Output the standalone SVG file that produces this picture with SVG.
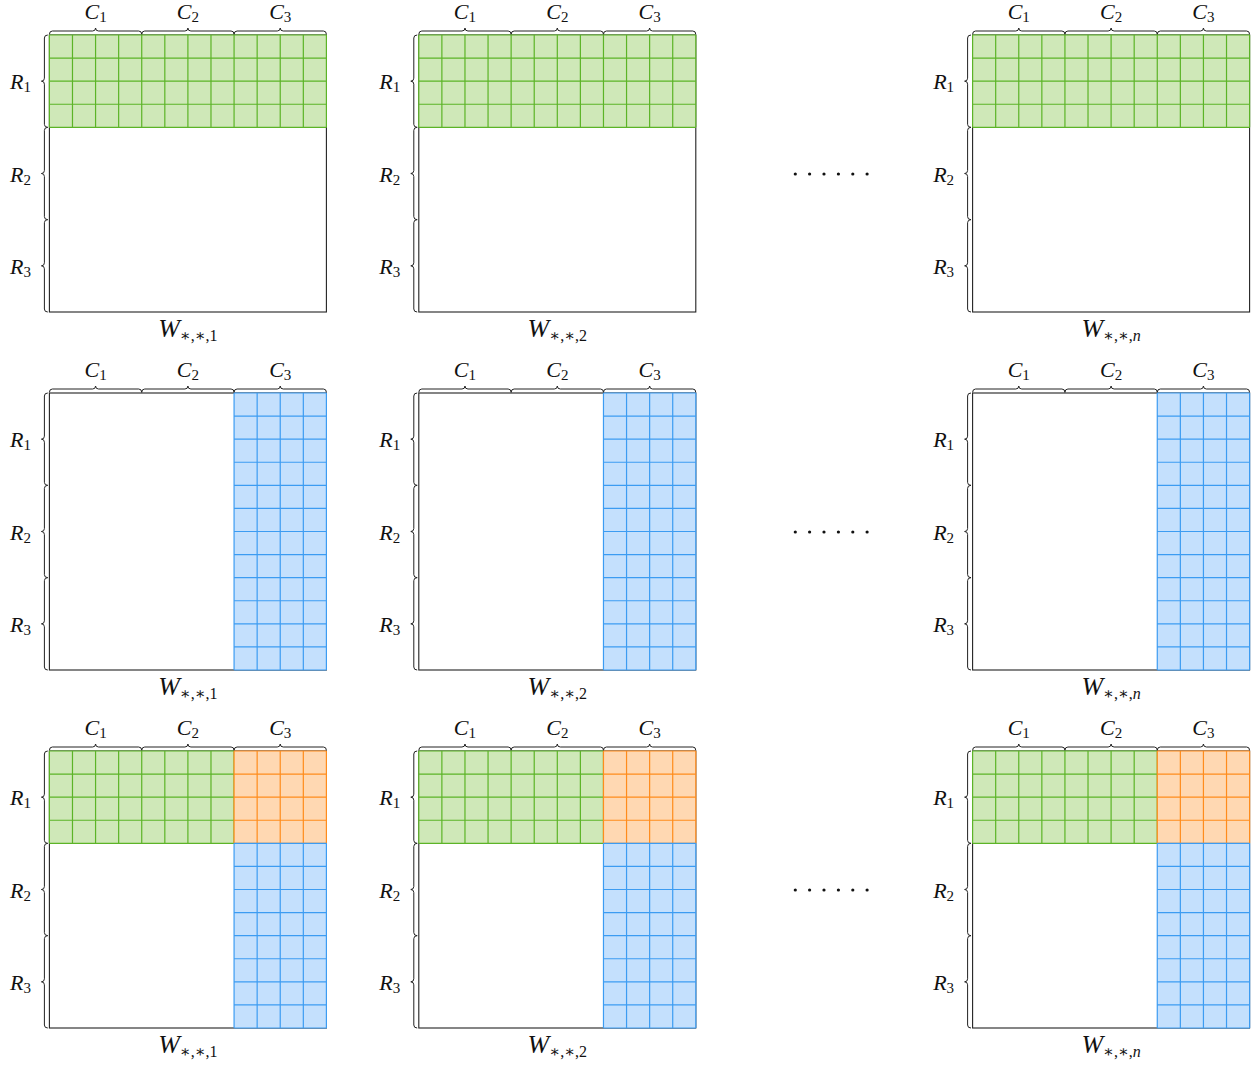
<svg xmlns="http://www.w3.org/2000/svg" width="1260" height="1065" viewBox="0 0 1260 1065">
  <style>
    .border { fill: none; stroke: #222; stroke-width: 1.1; }
    .brace { fill: none; stroke: #222; stroke-width: 1; stroke-linecap: round; }
    .lbl { font-family: "Liberation Serif", "DejaVu Serif", serif; fill: #111; }
    .it { font-style: italic; }
    .green-f { fill: #cfe8b8; }
    .green-s { fill: none; stroke: #5cb427; stroke-width: 1.2; }
    .orange-f { fill: #ffd8b2; }
    .orange-s { fill: none; stroke: #ff8c1c; stroke-width: 1.2; }
    .blue-f { fill: #c4e0fd; }
    .blue-s { fill: none; stroke: #3c9cf2; stroke-width: 1.2; }
    .dot { fill: #111; }
  </style>
  <defs>
    <!-- matrix outline, block braces and block labels (local coords, 277 x 277, cell 23.08) -->
    <g id="frame">
      <rect class="border" x="0" y="0" width="277" height="277"/>
      <path class="brace" d="M0 -1Q0 -4 3 -4H43.17Q46.17 -4 46.17 -7Q46.17 -4 49.17 -4H89.33Q92.33 -4 92.33 -1M92.33 -1Q92.33 -4 95.33 -4H135.5Q138.5 -4 138.5 -7Q138.5 -4 141.5 -4H181.67Q184.67 -4 184.67 -1M184.67 -1Q184.67 -4 187.67 -4H227.83Q230.83 -4 230.83 -7Q230.83 -4 233.83 -4H274Q277 -4 277 -1"/>
      <path class="brace" d="M-2 0Q-5 0 -5 3V43.17Q-5 46.17 -8 46.17Q-5 46.17 -5 49.17V89.33Q-5 92.33 -2 92.33M-2 92.33Q-5 92.33 -5 95.33V135.5Q-5 138.5 -8 138.5Q-5 138.5 -5 141.5V181.67Q-5 184.67 -2 184.67M-2 184.67Q-5 184.67 -5 187.67V227.83Q-5 230.83 -8 230.83Q-5 230.83 -5 233.83V274Q-5 277 -2 277"/>
      <text class="lbl" x="46.17" y="-16" text-anchor="middle"><tspan class="it" font-size="22">C</tspan><tspan font-size="15" dy="3">1</tspan></text>
      <text class="lbl" x="138.5" y="-16" text-anchor="middle"><tspan class="it" font-size="22">C</tspan><tspan font-size="15" dy="3">2</tspan></text>
      <text class="lbl" x="230.83" y="-16" text-anchor="middle"><tspan class="it" font-size="22">C</tspan><tspan font-size="15" dy="3">3</tspan></text>
      <text class="lbl" x="-29" y="54" text-anchor="middle"><tspan class="it" font-size="22">R</tspan><tspan font-size="15" dy="3">1</tspan></text>
      <text class="lbl" x="-29" y="146.5" text-anchor="middle"><tspan class="it" font-size="22">R</tspan><tspan font-size="15" dy="3">2</tspan></text>
      <text class="lbl" x="-29" y="238.8" text-anchor="middle"><tspan class="it" font-size="22">R</tspan><tspan font-size="15" dy="3">3</tspan></text>
    </g>
    <!-- R1 row band across all columns: 12 x 4 cells -->
    <g id="green-full">
      <rect class="green-f" x="0" y="0" width="277" height="92.33"/>
      <path class="green-s" d="M0 0V92.33M23.08 0V92.33M46.17 0V92.33M69.25 0V92.33M92.33 0V92.33M115.42 0V92.33M138.5 0V92.33M161.58 0V92.33M184.67 0V92.33M207.75 0V92.33M230.83 0V92.33M253.92 0V92.33M277 0V92.33M0 0H277M0 23.08H277M0 46.17H277M0 69.25H277M0 92.33H277"/>
    </g>
    <!-- R1 x (C1, C2): 8 x 4 cells -->
    <g id="green-part">
      <rect class="green-f" x="0" y="0" width="184.67" height="92.33"/>
      <path class="green-s" d="M0 0V92.33M23.08 0V92.33M46.17 0V92.33M69.25 0V92.33M92.33 0V92.33M115.42 0V92.33M138.5 0V92.33M161.58 0V92.33M184.67 0V92.33M0 0H184.67M0 23.08H184.67M0 46.17H184.67M0 69.25H184.67M0 92.33H184.67"/>
    </g>
    <!-- R1 x C3 overlap: 4 x 4 cells -->
    <g id="orange-corner">
      <rect class="orange-f" x="184.67" y="0" width="92.33" height="92.33"/>
      <path class="orange-s" d="M184.67 0V92.33M207.75 0V92.33M230.83 0V92.33M253.92 0V92.33M277 0V92.33M184.67 0H277M184.67 23.08H277M184.67 46.17H277M184.67 69.25H277M184.67 92.33H277"/>
    </g>
    <!-- C3 column band across all rows: 4 x 12 cells -->
    <g id="blue-full">
      <rect class="blue-f" x="184.67" y="0" width="92.33" height="277"/>
      <path class="blue-s" d="M184.67 0V277M207.75 0V277M230.83 0V277M253.92 0V277M277 0V277M184.67 0H277M184.67 23.08H277M184.67 46.17H277M184.67 69.25H277M184.67 92.33H277M184.67 115.42H277M184.67 138.5H277M184.67 161.58H277M184.67 184.67H277M184.67 207.75H277M184.67 230.83H277M184.67 253.92H277M184.67 277H277"/>
    </g>
    <!-- (R2, R3) x C3: 4 x 8 cells -->
    <g id="blue-part">
      <rect class="blue-f" x="184.67" y="92.33" width="92.33" height="184.67"/>
      <path class="blue-s" d="M184.67 92.33V277M207.75 92.33V277M230.83 92.33V277M253.92 92.33V277M277 92.33V277M184.67 92.33H277M184.67 115.42H277M184.67 138.5H277M184.67 161.58H277M184.67 184.67H277M184.67 207.75H277M184.67 230.83H277M184.67 253.92H277M184.67 277H277"/>
    </g>
  </defs>

  <!-- row 1: R1 selected -->
  <g id="m-1-1" transform="translate(49.4 35)">
    <use href="#frame"/><use href="#green-full"/>
    <text class="lbl" x="138.5" y="302" text-anchor="middle"><tspan class="it" font-size="26">W</tspan><tspan font-size="16" dy="4">∗,∗,1</tspan></text>
  </g>
  <g id="m-1-2" transform="translate(418.8 35)">
    <use href="#frame"/><use href="#green-full"/>
    <text class="lbl" x="138.5" y="302" text-anchor="middle"><tspan class="it" font-size="26">W</tspan><tspan font-size="16" dy="4">∗,∗,2</tspan></text>
  </g>
  <g id="m-1-n" transform="translate(972.6 35)">
    <use href="#frame"/><use href="#green-full"/>
    <text class="lbl" x="138.5" y="302" text-anchor="middle"><tspan class="it" font-size="26">W</tspan><tspan font-size="16" dy="4">∗,∗,<tspan class="it">n</tspan></tspan></text>
  </g>

  <!-- row 2: C3 selected -->
  <g id="m-2-1" transform="translate(49.4 393)">
    <use href="#frame"/><use href="#blue-full"/>
    <text class="lbl" x="138.5" y="302" text-anchor="middle"><tspan class="it" font-size="26">W</tspan><tspan font-size="16" dy="4">∗,∗,1</tspan></text>
  </g>
  <g id="m-2-2" transform="translate(418.8 393)">
    <use href="#frame"/><use href="#blue-full"/>
    <text class="lbl" x="138.5" y="302" text-anchor="middle"><tspan class="it" font-size="26">W</tspan><tspan font-size="16" dy="4">∗,∗,2</tspan></text>
  </g>
  <g id="m-2-n" transform="translate(972.6 393)">
    <use href="#frame"/><use href="#blue-full"/>
    <text class="lbl" x="138.5" y="302" text-anchor="middle"><tspan class="it" font-size="26">W</tspan><tspan font-size="16" dy="4">∗,∗,<tspan class="it">n</tspan></tspan></text>
  </g>

  <!-- row 3: R1 and C3 selected, overlap highlighted -->
  <g id="m-3-1" transform="translate(49.4 751)">
    <use href="#frame"/><use href="#green-part"/><use href="#orange-corner"/><use href="#blue-part"/>
    <text class="lbl" x="138.5" y="302" text-anchor="middle"><tspan class="it" font-size="26">W</tspan><tspan font-size="16" dy="4">∗,∗,1</tspan></text>
  </g>
  <g id="m-3-2" transform="translate(418.8 751)">
    <use href="#frame"/><use href="#green-part"/><use href="#orange-corner"/><use href="#blue-part"/>
    <text class="lbl" x="138.5" y="302" text-anchor="middle"><tspan class="it" font-size="26">W</tspan><tspan font-size="16" dy="4">∗,∗,2</tspan></text>
  </g>
  <g id="m-3-n" transform="translate(972.6 751)">
    <use href="#frame"/><use href="#green-part"/><use href="#orange-corner"/><use href="#blue-part"/>
    <text class="lbl" x="138.5" y="302" text-anchor="middle"><tspan class="it" font-size="26">W</tspan><tspan font-size="16" dy="4">∗,∗,<tspan class="it">n</tspan></tspan></text>
  </g>

  <!-- ellipsis between slice 2 and slice n -->
  <g id="ellipsis">
    <g id="dots-row1">
      <circle class="dot" cx="795.3" cy="174" r="1.6"/><circle class="dot" cx="809.6" cy="174" r="1.6"/><circle class="dot" cx="824" cy="174" r="1.6"/><circle class="dot" cx="838.4" cy="174" r="1.6"/><circle class="dot" cx="852.8" cy="174" r="1.6"/><circle class="dot" cx="867.1" cy="174" r="1.6"/>
    </g>
    <use href="#dots-row1" transform="translate(0 358)"/>
    <use href="#dots-row1" transform="translate(0 716)"/>
  </g>

  <!-- connectors: none in this figure -->
  <g id="connectors"/>
</svg>
